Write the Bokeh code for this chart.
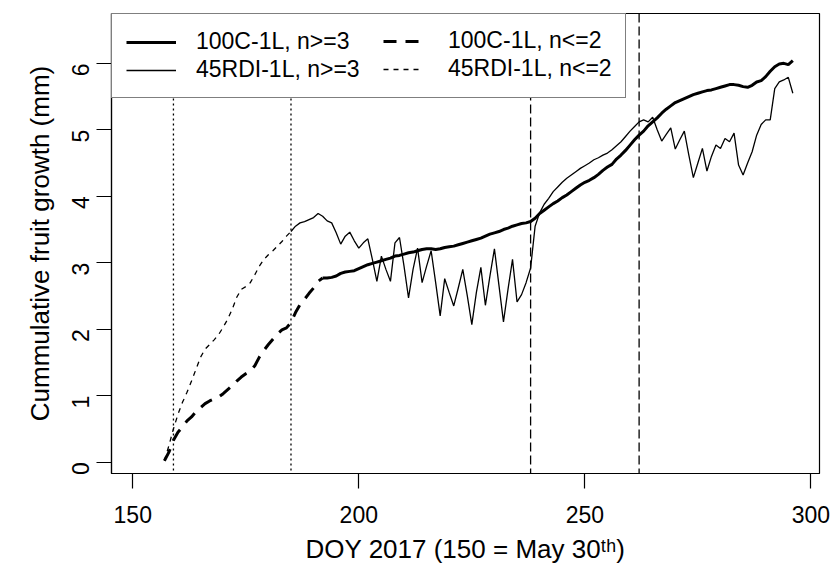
import math
from bokeh.plotting import figure
from bokeh.models import Range1d, FixedTicker, Span, Legend, LegendItem
from bokeh.embed import file_html
from bokeh.resources import INLINE

# ---------------- data ----------------
# 100C-1L, n<=2 (thick dashed), DOY 157..192
doy_100c_early = list(range(157, 193))
growth_100c_early = [0.02, 0.15, 0.33, 0.45, 0.53, 0.62, 0.68, 0.76, 0.82, 0.88,
                     0.92, 0.95, 0.98, 1.03, 1.09, 1.15, 1.22, 1.28, 1.33, 1.37,
                     1.45, 1.58, 1.68, 1.77, 1.85, 1.93, 1.99, 2.02, 2.10, 2.25,
                     2.37, 2.45, 2.54, 2.62, 2.72, 2.77]
# 100C-1L, n>=3 (thick solid), DOY 192..296
doy_100c_late = list(range(192, 297))
growth_100c_late = [2.77, 2.77, 2.78, 2.80, 2.84, 2.86, 2.87, 2.88, 2.91, 2.94,
                    2.97, 2.99, 3.01, 3.03, 3.05, 3.07, 3.10, 3.11, 3.13, 3.15,
                    3.16, 3.18, 3.20, 3.21, 3.21, 3.20, 3.21, 3.23, 3.24, 3.25,
                    3.27, 3.29, 3.31, 3.33, 3.35, 3.37, 3.40, 3.43, 3.45, 3.47,
                    3.50, 3.52, 3.55, 3.57, 3.59, 3.60, 3.62, 3.67, 3.74, 3.79,
                    3.84, 3.89, 3.93, 3.98, 4.02, 4.07, 4.12, 4.17, 4.21, 4.24,
                    4.28, 4.33, 4.39, 4.44, 4.48, 4.56, 4.62, 4.69, 4.77, 4.85,
                    4.92, 4.98, 5.06, 5.12, 5.18, 5.25, 5.31, 5.36, 5.41, 5.44,
                    5.47, 5.50, 5.53, 5.55, 5.57, 5.59, 5.60, 5.62, 5.64, 5.66,
                    5.68, 5.68, 5.67, 5.65, 5.64, 5.67, 5.72, 5.74, 5.80, 5.88,
                    5.95, 5.99, 6.00, 5.98, 6.04]
# 45RDI-1L, n<=2 (thin dashed), DOY 157..185
doy_rdi_early = list(range(157, 186))
growth_rdi_early = [0.02, 0.25, 0.50, 0.72, 0.90, 1.05, 1.22, 1.40, 1.58, 1.70,
                    1.77, 1.84, 1.92, 2.03, 2.15, 2.30, 2.48, 2.60, 2.64, 2.70,
                    2.82, 2.95, 3.05, 3.12, 3.18, 3.25, 3.32, 3.40, 3.47]
# 45RDI-1L, n>=3 (thin solid), DOY 185..296
doy_rdi_late = list(range(185, 297))
growth_rdi_late = [3.47, 3.55, 3.60, 3.62, 3.65, 3.68, 3.74, 3.70, 3.63, 3.60,
                   3.45, 3.28, 3.40, 3.46, 3.33, 3.22, 3.30, 3.36, 3.05, 2.72,
                   3.10, 2.90, 2.72, 3.30, 3.38, 2.95, 2.47, 2.90, 3.22, 2.70,
                   2.95, 3.18, 2.70, 2.20, 2.76, 2.55, 2.35, 2.62, 2.90, 2.50,
                   2.07, 2.55, 2.93, 2.36, 2.80, 3.21, 2.66, 2.11, 2.60, 3.05,
                   2.41, 2.52, 2.70, 2.92, 3.55, 3.75, 3.88, 3.97, 4.07, 4.14,
                   4.21, 4.27, 4.32, 4.37, 4.42, 4.46, 4.50, 4.55, 4.58, 4.62,
                   4.65, 4.70, 4.76, 4.82, 4.90, 4.98, 5.05, 5.12, 5.15, 5.12,
                   5.19, 5.00, 4.83, 4.93, 5.03, 4.71, 4.85, 4.98, 4.62, 4.28,
                   4.50, 4.72, 4.38, 4.60, 4.77, 4.72, 4.87, 4.82, 4.95, 4.47,
                   4.32, 4.50, 4.67, 4.92, 5.08, 5.15, 5.15, 5.62, 5.72, 5.75,
                   5.79, 5.55]

dotted_days = [159, 185]
dashed_days = [238, 262]
x_ticks = [150, 200, 250, 300]
y_ticks = [0, 1, 2, 3, 4, 5, 6]

FONT = "Liberation Sans"

p = figure(frame_width=708, frame_height=460, output_backend="svg",
           toolbar_location=None,
           x_range=Range1d(145.3, 301.9), y_range=Range1d(-0.171, 6.75),
           min_border_left=111, min_border_right=13, min_border_top=13,
           min_border_bottom=95)
p.xgrid.visible = False
p.ygrid.visible = False
p.outline_line_color = "black"
p.outline_line_width = 1.2
p.background_fill_color = "white"
p.border_fill_color = "white"

for ax, ticks in ((p.xaxis[0], x_ticks), (p.yaxis[0], y_ticks)):
    ax.ticker = FixedTicker(ticks=ticks)
    ax.minor_tick_line_color = None
    ax.major_tick_in = 0
    ax.major_tick_out = 15
    ax.major_tick_line_width = 1.2
    ax.axis_line_width = 1.2
    ax.major_label_text_font = FONT
    ax.major_label_text_font_size = "23px"
    ax.major_label_text_color = "black"
    ax.axis_label_text_font = FONT
    ax.axis_label_text_font_style = "normal"
    ax.axis_label_text_font_size = "26px"
    ax.axis_label_text_color = "black"

p.xaxis.axis_label = "DOY 2017 (150 = May 30ᵗʰ)"
p.xaxis.major_label_standoff = 17
p.xaxis.axis_label_standoff = 8
p.yaxis.axis_label = "Cummulative fruit growth (mm)"
p.yaxis.major_label_orientation = math.pi / 2
p.yaxis.major_label_standoff = 16
p.yaxis.axis_label_standoff = 6

for d in dotted_days:
    p.add_layout(Span(location=d, dimension="height", line_color="black",
                      line_width=1.3, line_dash="2 3", level="underlay"))
for d in dashed_days:
    p.add_layout(Span(location=d, dimension="height", line_color="black",
                      line_width=1.3, line_dash="9 4", level="underlay"))

r_c_early = p.line(doy_100c_early, growth_100c_early, line_color="black",
                   line_width=3, line_dash="13 9")
r_c_late = p.line(doy_100c_late, growth_100c_late, line_color="black",
                  line_width=3)
r_r_early = p.line(doy_rdi_early, growth_rdi_early, line_color="black",
                   line_width=1.3, line_dash="5 5")
r_r_late = p.line(doy_rdi_late, growth_rdi_late, line_color="black",
                  line_width=1.3)

common = dict(margin=0, padding=14, spacing=1, glyph_height=20,
              label_text_font=FONT, label_text_font_size="23px",
              label_text_color="black")
leg_a = Legend(items=[LegendItem(label="100C-1L, n>=3", renderers=[r_c_late]),
                      LegendItem(label="45RDI-1L, n>=3", renderers=[r_r_late])],
               location="top_left", glyph_width=50, label_standoff=20,
               label_width=415, border_line_color="black",
               border_line_width=1.2, background_fill_color="white",
               background_fill_alpha=1.0, **common)
leg_b = Legend(items=[LegendItem(label="100C-1L, n<=2", renderers=[r_c_early]),
                      LegendItem(label="45RDI-1L, n<=2", renderers=[r_r_early])],
               location="top_right", glyph_width=40, label_standoff=25,
               label_width=357, border_line_alpha=0.0,
               background_fill_alpha=0.0, **common)
p.add_layout(leg_a)
p.add_layout(leg_b)

open("out.html", "w").write(file_html(p, INLINE))
